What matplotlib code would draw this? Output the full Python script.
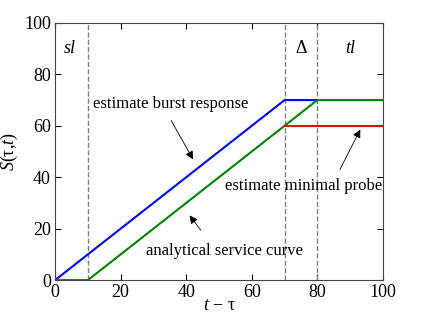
import numpy as np
import matplotlib
matplotlib.use('Agg')
import matplotlib.pyplot as plt

plt.rcParams['font.family'] = ['Liberation Serif', 'DejaVu Serif']
plt.rcParams['mathtext.fontset'] = 'custom'
plt.rcParams['mathtext.rm'] = 'Liberation Serif'
plt.rcParams['mathtext.it'] = 'Liberation Serif:italic'

# curves
burst_x = [0, 70, 80]
burst_y = [0, 70, 70]
service_x = [0, 10, 80, 100]
service_y = [0, 0, 70, 70]
probe_x = [70, 100]
probe_y = [60, 60]
dashed_x = [10, 70, 80]

fig = plt.figure(figsize=(4.24, 3.14), dpi=100)
ax = fig.add_axes([0.130, 0.108, 0.773, 0.819])

for xv in dashed_x:
    ax.axvline(xv, color='gray', ls='--', lw=1)
ax.plot(burst_x, burst_y, color='blue', lw=1.5)
ax.plot(service_x, service_y, color='green', lw=1.5)
ax.plot(probe_x, probe_y, color='red', lw=1.5)

ax.set_xlim(0, 100)
ax.set_ylim(0, 100)
ax.set_xticks([0, 20, 40, 60, 80, 100])
ax.set_yticks([0, 20, 40, 60, 80, 100])
ax.tick_params(direction='in', top=True, right=True, labelsize=13, length=4, pad=3)
for s in ax.spines.values():
    s.set_color('#444444')

ax.set_xlabel(r'$t$ − τ', fontsize=13, labelpad=-3)
ax.set_ylabel(r'$S$(τ,$t$)', fontsize=13, labelpad=3)

# region labels
ax.text(4.6, 90, 'sl', style='italic', fontsize=13, ha='center', va='center')
ax.text(75, 90, 'Δ', fontsize=13, ha='center', va='center')
ax.text(90, 90, 'tl', style='italic', fontsize=13, ha='center', va='center')

# annotations
arr = dict(arrowstyle='-|>', color='black', lw=0.6, mutation_scale=12)
ax.text(11.5, 68.5, 'estimate burst response', fontsize=12, ha='left', va='center')
ax.text(75.7, 36.6, 'estimate minimal probe', fontsize=12, ha='center', va='center')
ax.text(75.5, 11.3, 'analytical service curve', fontsize=12, ha='right', va='center')
ax.annotate('', xy=(93.5, 59.5), xytext=(86.5, 42), arrowprops=arr)
ax.annotate('', xy=(40.5, 26), xytext=(45, 18.5), arrowprops=arr)
ax.annotate('', xy=(42.5, 46), xytext=(35, 63), arrowprops=arr)

fig.savefig('out.png', dpi=100)
